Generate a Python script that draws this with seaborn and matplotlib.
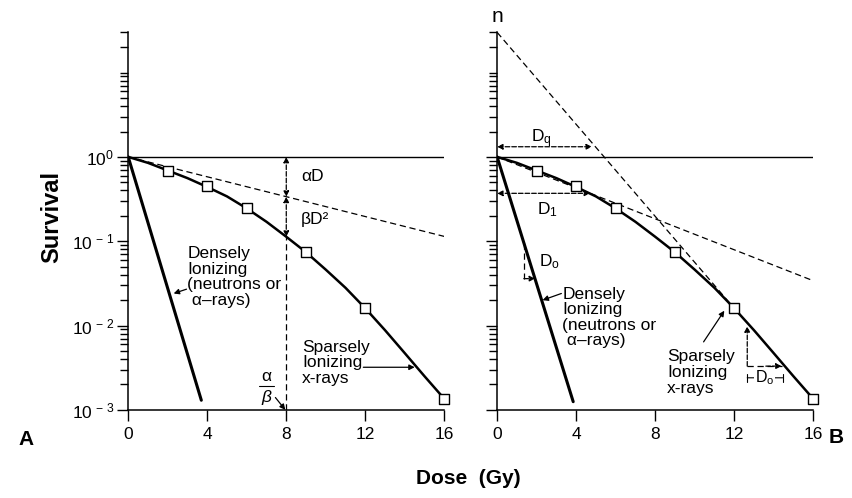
import matplotlib
matplotlib.use("Agg")
import matplotlib.pyplot as plt
from matplotlib.ticker import LogLocator, NullFormatter, FixedLocator
import seaborn as sns
import pandas as pd

sns.set_theme(style="ticks")
plt.rcParams['font.family'] = ['Liberation Sans', 'DejaVu Sans']
plt.rcParams['mathtext.fontset'] = 'custom'
plt.rcParams['mathtext.rm'] = 'Liberation Sans'
plt.rcParams['mathtext.it'] = 'Liberation Sans:italic'
for key in ['text.color', 'axes.labelcolor', 'xtick.color', 'ytick.color']:
    plt.rcParams[key] = 'black'

# survival data
dose_pts = [2, 4, 6, 9, 12, 16]
surv_pts = [0.68, 0.45, 0.245, 0.075, 0.016, 0.00135]

curve_dose = [0, 1, 2, 3, 4, 5, 6, 7, 8, 9, 10, 11, 12, 13, 14, 15, 16]
curve_surv = [1.0, 0.85, 0.69, 0.56, 0.44, 0.34, 0.245, 0.17, 0.113, 0.074,
              0.046, 0.028, 0.016, 0.0088, 0.0047, 0.0025, 0.00135]

dense_dose_a = [0, 3.7]
dense_surv_a = [1.0, 0.0013]
dense_dose_b = [0, 3.85]
dense_surv_b = [1.0, 0.00125]

alpha_dose = [0, 16]
alpha_surv = [1.0, 0.114]

init_dose = [0, 16]
init_surv = [1.0, 0.034]

extrap_dose = [0, 12]
extrap_surv = [30, 0.016]

xticks = [0, 4, 8, 12, 16]
yticks = [1e-3, 1e-2, 1e-1, 1e0]
ytick_labels = [r'$\mathregular{10^{\,-\,3}}$', r'$\mathregular{10^{\,-\,2}}$',
                r'$\mathregular{10^{\,-\,1}}$', r'$\mathregular{10^{0}}$']

pts = pd.DataFrame({"dose": dose_pts, "surv": surv_pts})
curve = pd.DataFrame({"dose": curve_dose, "surv": curve_surv})

fig = plt.figure(figsize=(8.52, 4.98), dpi=100)
ax1 = fig.add_axes([0.1505, 0.177, 0.371, 0.758])
ax2 = fig.add_axes([0.5835, 0.177, 0.371, 0.758])

TXT = 12.5
dash_kw = dict(color="black", lw=0.9, ls=(0, (5, 3)))


def setup(ax, labels):
    ax.set_yscale("log")
    ax.set_xlim(0, 16)
    ax.set_ylim(1e-3, 30)
    ax.set_xticks(xticks)
    ax.set_xticklabels([str(t) for t in xticks], fontsize=TXT)
    ax.yaxis.set_major_locator(FixedLocator(yticks))
    ax.yaxis.set_minor_locator(LogLocator(base=10, subs=range(2, 11), numticks=20))
    ax.yaxis.set_minor_formatter(NullFormatter())
    if labels:
        ax.set_yticklabels(ytick_labels, fontsize=TXT)
    else:
        ax.set_yticklabels([])
    ax.tick_params(axis="x", length=8, width=1, direction="out", pad=4)
    ax.tick_params(axis="y", which="major", length=8, width=1, direction="out", pad=2)
    ax.tick_params(axis="y", which="minor", length=6, width=1, direction="out")
    for s in ["top", "right"]:
        ax.spines[s].set_visible(False)
    for s in ["left", "bottom"]:
        ax.spines[s].set_linewidth(1.1)
        ax.spines[s].set_color("black")
    ax.axhline(1.0, color="black", lw=1.0)
    ax.set_xlabel("")
    ax.set_ylabel("")
    ax.patch.set_alpha(0)


def survival(ax, dense_d, dense_s):
    sns.lineplot(data=curve, x="dose", y="surv", ax=ax, color="black", lw=1.8)
    sns.lineplot(x=dense_d, y=dense_s, ax=ax, color="black", lw=2.2)
    sns.scatterplot(data=pts, x="dose", y="surv", ax=ax, marker="s", s=60,
                    facecolor="white", edgecolor="black", linewidth=1.0,
                    zorder=5, clip_on=False)


arrow2 = dict(arrowstyle="<|-|>", color="black", lw=0.9, ls="--",
              mutation_scale=8, shrinkA=0, shrinkB=0)
arrow1 = dict(arrowstyle="-|>", color="black", lw=0.9,
              mutation_scale=8, shrinkA=0, shrinkB=0)
arrow1d = dict(arrowstyle="-|>", color="black", lw=0.9, ls="--",
               mutation_scale=8, shrinkA=0, shrinkB=0)
label_kw = dict(fontsize=TXT, va="top", linespacing=1.05)

# ---- panel A
survival(ax1, dense_dose_a, dense_surv_a)
sns.lineplot(x=alpha_dose, y=alpha_surv, ax=ax1, **dash_kw)
ax1.plot([8, 8], [1e-3, 0.113], **dash_kw)
ax1.annotate("", xy=(8, 0.337), xytext=(8, 1.0), arrowprops=arrow2)
ax1.annotate("", xy=(8, 0.113), xytext=(8, 0.337), arrowprops=arrow2)
ax1.text(8.75, 0.58, "αD", fontsize=TXT, va="center")
ax1.text(8.75, 0.18, "βD²", fontsize=TXT, va="center")
ax1.text(3.0, 0.088, "Densely\nIonizing\n(neutrons or\n α–rays)", **label_kw)
ax1.annotate("", xy=(2.3, 0.024), xytext=(2.95, 0.027), arrowprops=arrow1)
ax1.text(8.8, 0.0068, "Sparsely\nIonizing\nx-rays", **label_kw)
ax1.annotate("", xy=(14.5, 0.0032), xytext=(11.9, 0.0032), arrowprops=arrow1)
ax1.text(7.0, 0.0025, "α", fontsize=TXT, ha="center", va="center")
ax1.plot([6.6, 7.4], [0.0019, 0.0019], color="black", lw=0.8)
ax1.text(7.0, 0.0014, "β", fontsize=TXT, ha="center", va="center", style="italic")
ax1.annotate("", xy=(7.95, 0.001), xytext=(7.45, 0.0014), arrowprops=arrow1)

# ---- panel B
survival(ax2, dense_dose_b, dense_surv_b)
sns.lineplot(x=init_dose, y=init_surv, ax=ax2, **dash_kw)
sns.lineplot(x=extrap_dose, y=extrap_surv, ax=ax2, **dash_kw)
ax2.annotate("", xy=(4.8, 1.32), xytext=(0, 1.32), arrowprops=arrow2)
ax2.text(1.7, 1.65, "D$_\\mathregular{q}$", fontsize=TXT, va="center")
ax2.annotate("", xy=(4.7, 0.37), xytext=(0, 0.37), arrowprops=arrow2)
ax2.text(2.0, 0.24, "D$_\\mathregular{1}$", fontsize=TXT, va="center")
ax2.plot([1.35, 1.35], [0.096, 0.036], **dash_kw)
ax2.annotate("", xy=(1.92, 0.036), xytext=(1.35, 0.036), arrowprops=arrow1d)
ax2.text(2.1, 0.058, "D$_\\mathregular{o}$", fontsize=TXT, va="center")
ax2.text(3.3, 0.029, "Densely\nIonizing\n(neutrons or\n α–rays)", **label_kw)
ax2.annotate("", xy=(2.3, 0.02), xytext=(3.25, 0.024), arrowprops=arrow1)
ax2.text(8.6, 0.0052, "Sparsely\nIonizing\nx-rays", **label_kw)
ax2.annotate("", xy=(11.5, 0.015), xytext=(10.45, 0.0064), arrowprops=arrow1)
ax2.plot([12.66, 14.4], [0.0033, 0.0033], **dash_kw)
ax2.annotate("", xy=(12.66, 0.0098), xytext=(12.66, 0.0033), arrowprops=arrow1d)
ax2.annotate("", xy=(14.4, 0.0033), xytext=(13.6, 0.0033), arrowprops=arrow1d)
ax2.annotate("", xy=(12.66, 0.0024), xytext=(14.45, 0.0024),
             arrowprops=dict(arrowstyle="|-|", color="black", lw=0.8,
                             mutation_scale=3, shrinkA=0, shrinkB=0))
ax2.text(13.55, 0.0024, "D$_\\mathregular{o}$", fontsize=TXT - 1, ha="center",
         va="center", bbox=dict(fc="white", ec="none", pad=0.5))
ax2.text(0.0, 36, "n", fontsize=15, ha="center", va="bottom")

setup(ax1, True)
setup(ax2, False)

fig.text(0.061, 0.564, "Survival", fontsize=17, fontweight="bold",
         rotation=90, ha="center", va="center")
fig.text(0.022, 0.117, "A", fontsize=15, fontweight="bold", va="center")
fig.text(0.972, 0.122, "B", fontsize=15, fontweight="bold", va="center")
fig.text(0.55, 0.04, "Dose  (Gy)", fontsize=15, fontweight="bold",
         ha="center", va="center")

fig.savefig("out.png", dpi=100, facecolor="white")
